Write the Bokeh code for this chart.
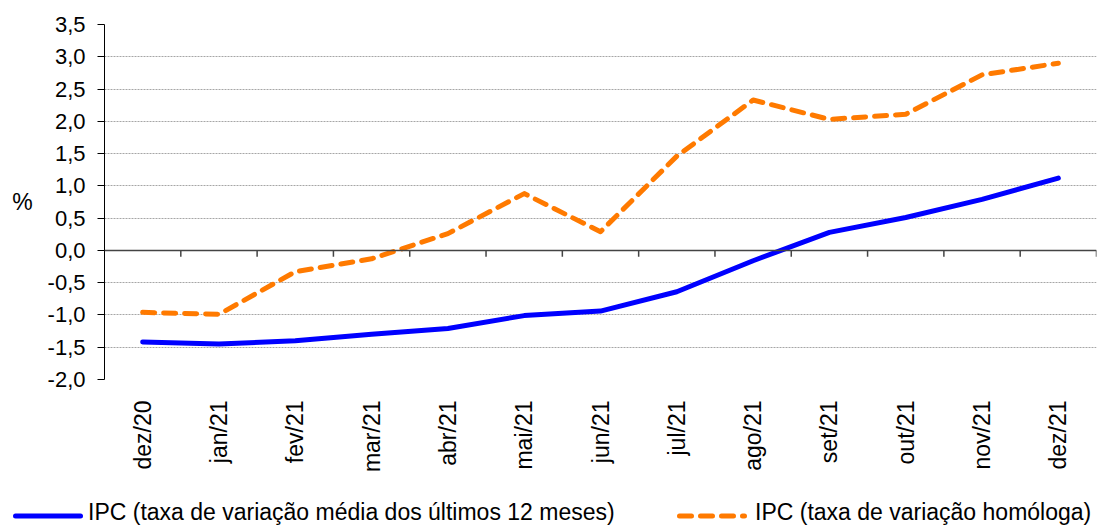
import math
from bokeh.plotting import figure
from bokeh.layouts import column
from bokeh.models import (Range1d, FixedTicker, CustomJSTickFormatter, Span, Div,
                          ColumnDataSource)
from bokeh.embed import file_html
from bokeh.resources import INLINE

categories = ["dez/20", "jan/21", "fev/21", "mar/21", "abr/21", "mai/21", "jun/21",
              "jul/21", "ago/21", "set/21", "out/21", "nov/21", "dez/21"]
media12 = [-1.42, -1.45, -1.40, -1.30, -1.21, -1.01, -0.94, -0.64, -0.16, 0.28, 0.51, 0.79, 1.12]
homologa = [-0.96, -0.99, -0.33, -0.13, 0.26, 0.88, 0.29, 1.46, 2.33, 2.03, 2.11, 2.72, 2.90]
y_ticks = [-2.0, -1.5, -1.0, -0.5, 0.0, 0.5, 1.0, 1.5, 2.0, 2.5, 3.0, 3.5]
label_media = "IPC (taxa de variação média dos últimos 12 meses)"
label_homologa = "IPC (taxa de variação homóloga)"
y_title = "%"

FONT = "Liberation Sans"
BLUE = "#0000FF"
ORANGE = "#FF7A00"
DASH = "12 9"
n = len(categories)
xs = list(range(n))

p = figure(frame_width=992, frame_height=355, output_backend="svg", toolbar_location=None,
           x_range=Range1d(-0.5, n - 0.5), y_range=Range1d(y_ticks[0], y_ticks[-1]),
           min_border_left=104, min_border_right=1, min_border_top=24, min_border_bottom=106)
p.outline_line_color = None

# y axis
yax = p.yaxis[0]
yax.ticker = FixedTicker(ticks=y_ticks)
yax.formatter = CustomJSTickFormatter(code="return tick.toFixed(1).replace('.', ',');")
yax.axis_line_color = "black"
yax.major_tick_line_color = "black"
yax.major_tick_out = 7
yax.major_tick_in = 0
yax.minor_tick_line_color = None
yax.major_label_standoff = 12
yax.major_label_text_font = FONT
yax.major_label_text_font_size = "22px"
yax.major_label_text_color = "black"
yax.axis_label = y_title
yax.axis_label_text_font = FONT
yax.axis_label_text_font_size = "23px"
yax.axis_label_text_font_style = "normal"
yax.axis_label_text_color = "black"
yax.axis_label_standoff = 12
if "axis_label_orientation" in yax.properties():
    yax.axis_label_orientation = "horizontal"

# x axis (labels only)
xax = p.xaxis[0]
xax.ticker = FixedTicker(ticks=xs)
xax.major_label_overrides = {i: c for i, c in enumerate(categories)}
xax.major_label_orientation = math.pi / 2
xax.axis_line_color = None
xax.major_tick_line_color = None
xax.minor_tick_line_color = None
xax.major_label_standoff = 15
xax.major_label_text_font = FONT
xax.major_label_text_font_size = "23px"
xax.major_label_text_color = "black"

# grid
p.xgrid.grid_line_color = None
p.ygrid.ticker = FixedTicker(ticks=y_ticks)
p.ygrid.grid_line_color = "#A6A6A6"
p.ygrid.grid_line_dash = "2 1"
p.ygrid.grid_line_width = 1

# zero axis line with category-boundary ticks
p.add_layout(Span(location=0, dimension="width", line_color="#444444", line_width=1.5))
bounds = [i + 0.5 for i in range(n)]
p.segment(x0=bounds, y0=[0] * n, x1=bounds, y1=[-0.1] * n, line_color="#444444", line_width=1.5)

src = ColumnDataSource(dict(x=xs, m=media12, h=homologa))
p.line("x", "m", source=src, line_color=BLUE, line_width=5, line_cap="round", line_join="round")
p.line("x", "h", source=src, line_color=ORANGE, line_width=5, line_cap="round",
       line_join="round", line_dash=DASH)

# legend row below the chart (spans the full width, like the original)
def key(left, color, dash):
    dash_attr = f' stroke-dasharray="{dash}"' if dash else ""
    return (f'<svg style="position:absolute;left:{left}px;top:26px" width="70" height="10">'
            f'<line x1="2.5" y1="5" x2="67.5" y2="5" stroke="{color}" stroke-width="5" '
            f'stroke-linecap="round"{dash_attr}/></svg>')

def text(left, label):
    return (f'<span style="position:absolute;left:{left}px;top:16px;white-space:nowrap;'
            f'line-height:1">{label}</span>')

legend_html = (f'<div style="position:relative;width:1097px;height:42px;font-family:\'{FONT}\';'
               f'font-size:23px;color:#000">'
               + key(13, BLUE, None) + text(88, label_media)
               + key(677, ORANGE, DASH) + text(755, label_homologa)
               + '</div>')
legend_div = Div(text=legend_html, width=1097, height=42, margin=0)

layout = column(p, legend_div, spacing=0)
open("out.html", "w").write(file_html(layout, INLINE))
